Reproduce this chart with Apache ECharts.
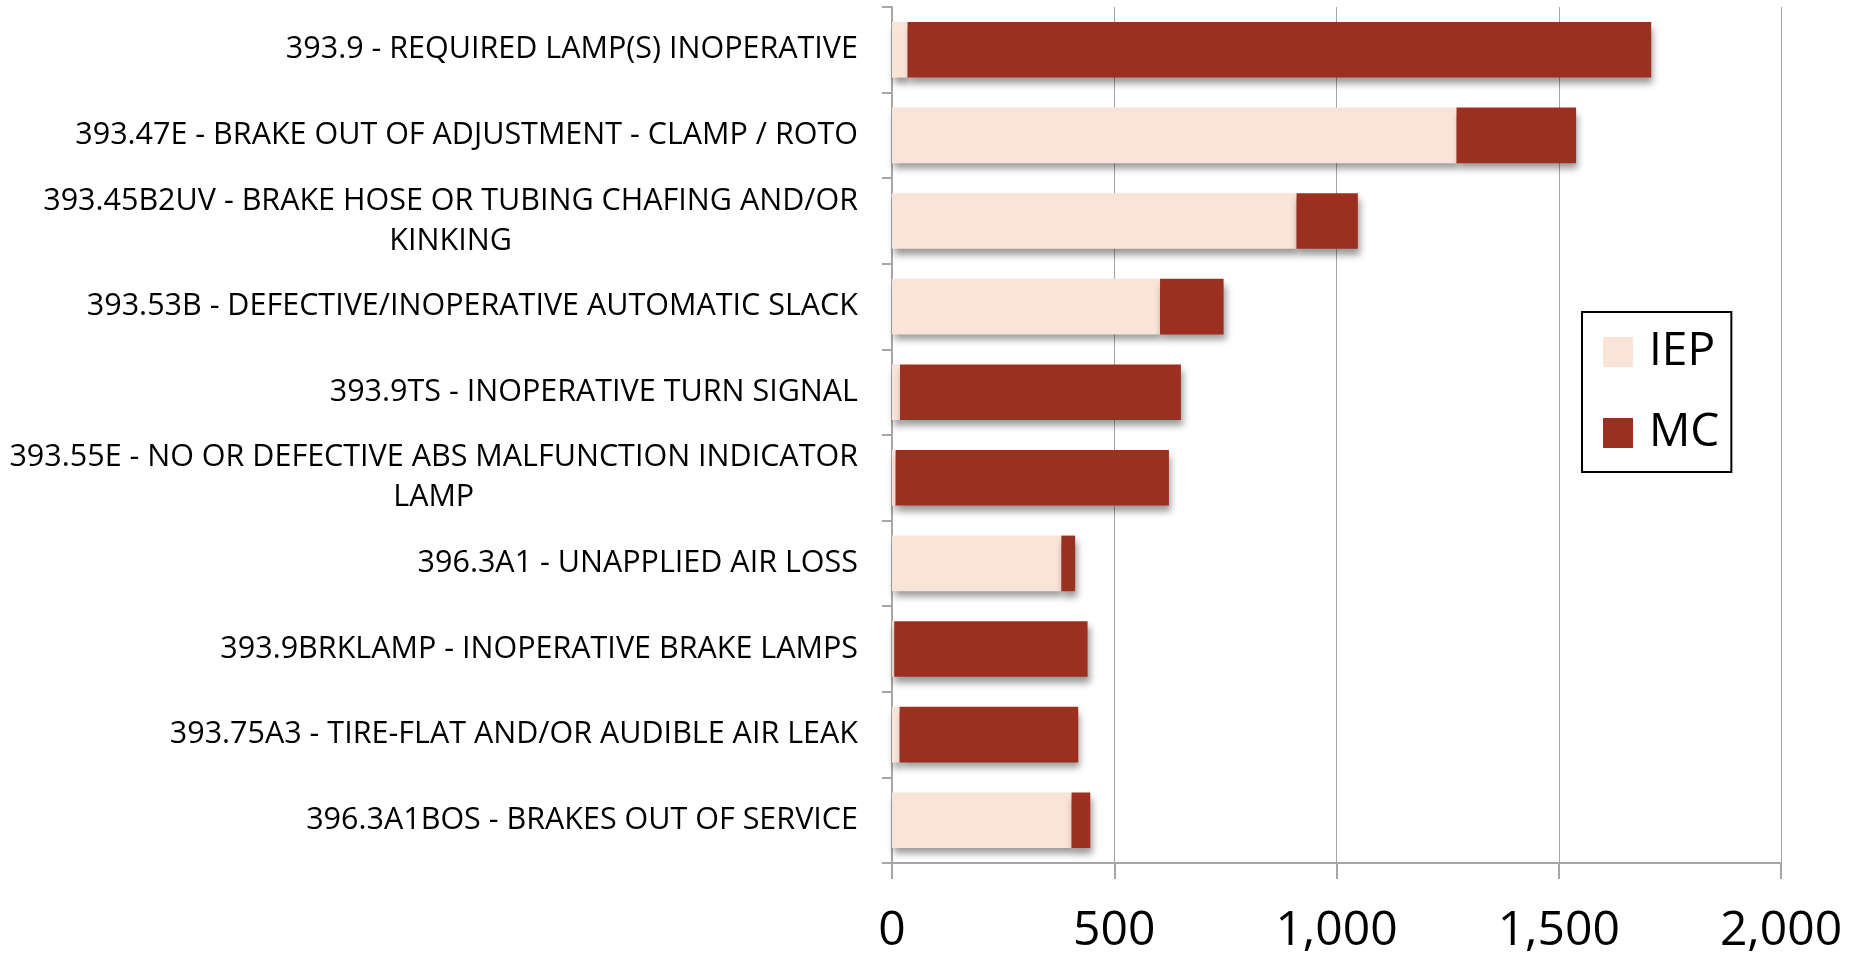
<!DOCTYPE html>
<html style="height: 100%">
<head>
    <meta charset="utf-8">
</head>
<body style="height: 100%; margin: 0">
<div id="container" style="height: 100%"></div>

<script type="text/javascript" src="https://cdn.jsdelivr.net/npm/echarts@6/dist/echarts.min.js"></script>
<script type="text/javascript">
    // violation types, top to bottom
    var categories = [
        '393.9 - REQUIRED LAMP(S) INOPERATIVE',
        '393.47E - BRAKE OUT OF ADJUSTMENT - CLAMP / ROTO',
        '393.45B2UV - BRAKE HOSE OR TUBING CHAFING AND/OR\nKINKING',
        '393.53B - DEFECTIVE/INOPERATIVE AUTOMATIC SLACK',
        '393.9TS - INOPERATIVE TURN SIGNAL',
        '393.55E - NO OR DEFECTIVE ABS MALFUNCTION INDICATOR\nLAMP',
        '396.3A1 - UNAPPLIED AIR LOSS',
        '393.9BRKLAMP - INOPERATIVE BRAKE LAMPS',
        '393.75A3 - TIRE-FLAT AND/OR AUDIBLE AIR LEAK',
        '396.3A1BOS - BRAKES OUT OF SERVICE'
    ];
    var iepValues = [35, 1270, 910, 603, 18, 8, 381, 5, 17, 404];
    var mcValues = [1673, 269, 138, 143, 632, 615, 31, 435, 402, 42];

    var dom = document.getElementById("container");
    var myChart = echarts.init(dom);
    var option;

    var barShadow = {
        shadowColor: 'rgba(0, 0, 0, 0.4)',
        shadowBlur: 7,
        shadowOffsetX: 2,
        shadowOffsetY: 6
    };

    option = {
        animation: false,
        backgroundColor: '#ffffff',
        grid: {
            left: 892,
            right: 68,
            top: 7,
            bottom: 94
        },
        legend: {
            orient: 'vertical',
            left: 1582,
            top: 312,
            padding: [17, 12, 16, 21],
            itemWidth: 30,
            itemHeight: 30,
            itemGap: 35,
            borderColor: '#000000',
            borderWidth: 2,
            icon: 'rect',
            textStyle: {
                fontFamily: 'Open Sans',
                fontSize: 46,
                color: '#000000',
                padding: [0, 0, 0, 11]
            },
            data: ['IEP', 'MC']
        },
        xAxis: {
            type: 'value',
            min: 0,
            max: 2000,
            interval: 500,
            axisLine: {show: true, lineStyle: {color: '#a6a6a6', width: 2}},
            axisTick: {show: true, length: 16, lineStyle: {color: '#a6a6a6', width: 2}},
            splitLine: {show: true, lineStyle: {color: '#a6a6a6', width: 1}},
            axisLabel: {
                margin: 44,
                fontFamily: 'Open Sans',
                fontSize: 48,
                color: '#000000',
                formatter: function (v) {
                    return v.toLocaleString('en-US');
                }
            }
        },
        yAxis: {
            type: 'category',
            inverse: true,
            data: categories,
            axisLine: {show: true, lineStyle: {color: '#a6a6a6', width: 2}},
            axisTick: {show: true, length: 10, lineStyle: {color: '#a6a6a6', width: 2}},
            axisLabel: {
                margin: 34,
                align: 'right',
                formatter: function (v) {
                    return v.split('\n').map(function (s) {
                        return '{c|' + s + '}';
                    }).join('\n');
                },
                rich: {
                    c: {
                        align: 'center',
                        fontFamily: 'Open Sans',
                        fontSize: 30.5,
                        lineHeight: 40,
                        color: '#000000'
                    }
                }
            }
        },
        series: [{
            name: 'IEP',
            type: 'bar',
            stack: 'total',
            barWidth: '65%',
            itemStyle: Object.assign({color: '#fae4d8'}, barShadow),
            data: iepValues
        }, {
            name: 'MC',
            type: 'bar',
            stack: 'total',
            barWidth: '65%',
            itemStyle: Object.assign({color: '#9b3020'}, barShadow),
            data: mcValues
        }]
    };

    if (option && typeof option === 'object') {
        myChart.setOption(option);
    }
</script>
</body>
</html>
